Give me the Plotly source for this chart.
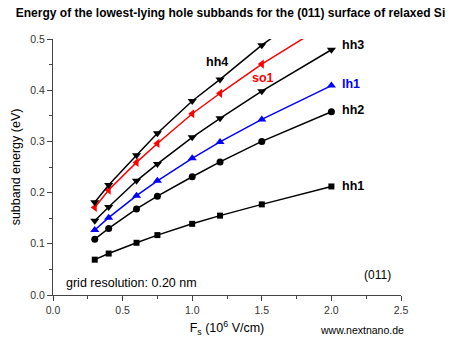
import plotly.graph_objects as go

# Surface field F_s (10^6 V/cm)
field = [0.3, 0.4, 0.6, 0.75, 1.0, 1.2, 1.5, 2.0]

# Subband energies (eV)
hh1 = [0.069, 0.081, 0.102, 0.117, 0.139, 0.155, 0.177, 0.212]
hh2 = [0.109, 0.130, 0.168, 0.193, 0.231, 0.260, 0.300, 0.358]
lh1 = [0.127, 0.151, 0.194, 0.223, 0.267, 0.299, 0.343, 0.409]
hh3 = [0.145, 0.172, 0.223, 0.256, 0.308, 0.345, 0.398, 0.479]
so1 = [0.171, 0.205, 0.259, 0.296, 0.354, 0.394, 0.451, 0.535]
hh4 = [0.181, 0.215, 0.273, 0.316, 0.379, 0.421, 0.488, 0.585]

series = [
    ("hh1", hh1, "black", "square", 6),
    ("hh2", hh2, "black", "circle", 7),
    ("lh1", lh1, "blue", "triangle-up", 8),
    ("hh3", hh3, "black", "triangle-down", 8),
    ("so1", so1, "red", "triangle-left", 8),
    ("hh4", hh4, "black", "triangle-down", 8),
]

FONT = "Arial, Liberation Sans"

fig = go.Figure()
for name, vals, color, sym, size in series:
    fig.add_trace(go.Scatter(
        x=field, y=vals, mode="lines+markers", name=name,
        line=dict(color=color, width=1.5),
        marker=dict(symbol=sym, size=size, color=color),
        showlegend=False,
    ))

# Curve labels
labels = [
    ("hh4", 1.18, 0.455, "black", "center"),
    ("so1", 1.51, 0.423, "red", "center"),
    ("hh3", 2.06, 0.488, "black", "left"),
    ("lh1", 2.06, 0.412, "blue", "left"),
    ("hh2", 2.06, 0.361, "black", "left"),
    ("hh1", 2.06, 0.213, "black", "left"),
]
for text, x, y, color, anchor in labels:
    fig.add_annotation(x=x, y=y, text="<b>%s</b>" % text, showarrow=False,
                       xanchor=anchor, yanchor="middle",
                       font=dict(family=FONT, size=12.5, color=color))

fig.add_annotation(x=0.08, y=0.024, text="grid resolution: 0.20 nm", showarrow=False,
                   xanchor="left", yanchor="middle",
                   font=dict(family=FONT, size=12.5, color="black"))
fig.add_annotation(x=2.33, y=0.039, text="(011)", showarrow=False,
                   xanchor="center", yanchor="middle",
                   font=dict(family=FONT, size=12, color="black"))
fig.add_annotation(xref="paper", yref="paper", x=0.888, y=-0.137,
                   text="www.nextnano.de", showarrow=False,
                   xanchor="center", yanchor="middle",
                   font=dict(family=FONT, size=10.5, color="black"))

axis_common = dict(
    showline=True, linecolor="#444", linewidth=1.2, mirror=False,
    showgrid=False, zeroline=False, ticks="outside", ticklen=5,
    tickcolor="#444", tickwidth=1,
    tickfont=dict(family=FONT, size=10.5, color="#333"),
)

fig.update_xaxes(
    range=[0, 2.5], dtick=0.5, tick0=0, tickformat=".1f",
    minor=dict(dtick=0.25, ticks="outside", ticklen=3, tickcolor="#444"),
    title=dict(text="F<sub>s</sub> (10<sup>6</sup> V/cm)", standoff=8,
               font=dict(family=FONT, size=12.5, color="black")),
    **axis_common,
)
fig.update_yaxes(
    range=[0, 0.5], dtick=0.1, tick0=0, tickformat=".1f",
    minor=dict(dtick=0.05, ticks="outside", ticklen=3, tickcolor="#444"),
    title=dict(text="subband energy (eV)", standoff=6,
               font=dict(family=FONT, size=12.5, color="black")),
    **axis_common,
)

fig.update_layout(
    width=461, height=343,
    margin=dict(l=53, r=60, t=39, b=48),
    paper_bgcolor="white", plot_bgcolor="white",
    title=dict(text="<b>Energy of the lowest-lying hole subbands for the (011) surface of relaxed Si</b>",
               x=0.5, xanchor="center", y=0.962, yanchor="middle",
               font=dict(family=FONT, size=12, color="black")),
)

fig.write_html("out.html")
